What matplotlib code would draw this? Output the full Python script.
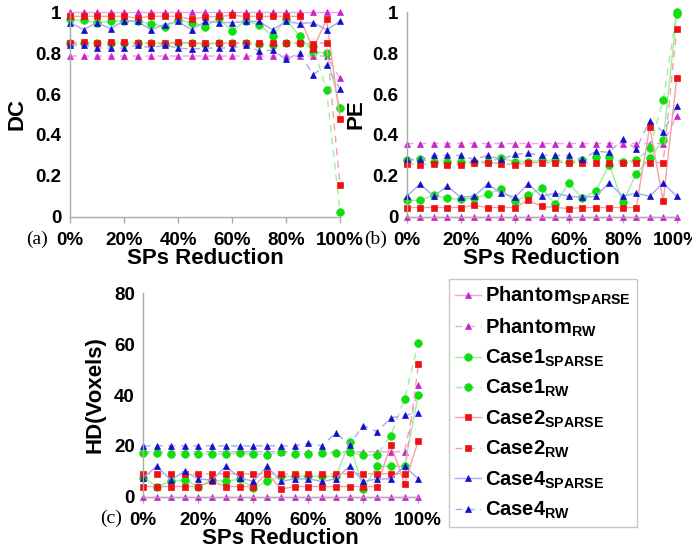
import matplotlib
matplotlib.use("Agg")
import matplotlib.pyplot as plt
from matplotlib.ticker import FuncFormatter
import numpy as np

reduction = [0, 5, 10, 15, 20, 25, 30, 35, 40, 45, 50, 55, 60, 65, 70, 75, 80, 85, 90, 95, 100]

# DC
dc_phantom_sparse = [1.0]*21
dc_phantom_rw = [0.786]*20 + [0.677]
dc_case1_sparse = [0.965, 0.96, 0.95, 0.955, 0.958, 0.955, 0.945, 0.93, 0.962, 0.95, 0.93, 0.97, 0.91, 0.958, 0.94, 0.885, 0.965, 0.885, 0.805, 0.80, 0.53]
dc_case1_rw = [0.85, 0.85, 0.85, 0.85, 0.85, 0.85, 0.85, 0.845, 0.85, 0.85, 0.845, 0.85, 0.85, 0.85, 0.845, 0.84, 0.85, 0.85, 0.835, 0.62, 0.025]
dc_case2_sparse = [0.98, 0.98, 0.98, 0.98, 0.98, 0.972, 0.98, 0.98, 0.98, 0.965, 0.978, 0.98, 0.985, 0.98, 0.98, 0.98, 0.98, 0.98, 0.82, 0.965, 0.48]
dc_case2_rw = [0.852, 0.853, 0.85, 0.853, 0.853, 0.85, 0.85, 0.85, 0.853, 0.85, 0.848, 0.848, 0.85, 0.848, 0.848, 0.848, 0.85, 0.85, 0.847, 0.85, 0.155]
dc_case4_sparse = [0.95, 0.915, 0.95, 0.92, 0.958, 0.955, 0.915, 0.94, 0.955, 0.915, 0.955, 0.95, 0.95, 0.955, 0.955, 0.915, 0.955, 0.945, 0.95, 0.915, 0.955]
dc_case4_rw = [0.84, 0.84, 0.825, 0.825, 0.825, 0.84, 0.825, 0.84, 0.825, 0.82, 0.825, 0.825, 0.825, 0.84, 0.81, 0.815, 0.77, 0.80, 0.695, 0.74, 0.625]

# PE
pe_phantom_sparse = [0.0]*21
pe_phantom_rw = [0.358]*20 + [0.493]
pe_case1_sparse = [0.08, 0.08, 0.105, 0.09, 0.085, 0.09, 0.11, 0.135, 0.075, 0.105, 0.14, 0.06, 0.165, 0.09, 0.125, 0.255, 0.07, 0.21, 0.285, 0.375, 0.99]
pe_case1_rw = [0.275, 0.28, 0.27, 0.27, 0.27, 0.27, 0.27, 0.285, 0.27, 0.27, 0.275, 0.275, 0.27, 0.275, 0.29, 0.29, 0.27, 0.275, 0.335, 0.57, 1.0]
pe_case2_sparse = [0.045, 0.045, 0.045, 0.045, 0.045, 0.055, 0.045, 0.045, 0.045, 0.08, 0.05, 0.045, 0.04, 0.045, 0.045, 0.045, 0.045, 0.045, 0.44, 0.075, 0.68]
pe_case2_rw = [0.26, 0.255, 0.26, 0.255, 0.255, 0.265, 0.265, 0.26, 0.255, 0.265, 0.265, 0.265, 0.265, 0.265, 0.265, 0.265, 0.265, 0.265, 0.265, 0.265, 0.92]
pe_case4_sparse = [0.10, 0.16, 0.10, 0.15, 0.095, 0.10, 0.16, 0.115, 0.095, 0.16, 0.10, 0.115, 0.10, 0.095, 0.10, 0.165, 0.10, 0.115, 0.10, 0.165, 0.10]
pe_case4_rw = [0.28, 0.28, 0.30, 0.30, 0.30, 0.28, 0.30, 0.28, 0.305, 0.31, 0.30, 0.30, 0.30, 0.28, 0.32, 0.315, 0.38, 0.33, 0.47, 0.415, 0.54]

# HD
hd_phantom_sparse = [0.0]*21
hd_phantom_rw = [17.7]*20 + [44.0]
hd_case1_sparse = [7.5, 4, 6, 6.5, 4, 6.5, 6, 7, 3.5, 6, 8, 8, 8, 8, 8, 21.5, 3, 12, 12, 12, 40]
hd_case1_rw = [17, 17.3, 16.7, 16.8, 16.8, 16.8, 16.8, 17.2, 16.8, 16.5, 17.5, 16.8, 16.8, 17.2, 17, 17.6, 16.3, 16.5, 24, 38.5, 60.5]
hd_case2_sparse = [4, 4, 4, 4, 4, 6, 4, 4, 4, 9.2, 3, 4, 4, 4, 4, 4, 4, 4, 20.5, 5, 22]
hd_case2_rw = [9, 9, 9, 9, 9, 9, 9, 9, 9, 9, 9, 9, 9, 9, 9, 9, 9, 9, 9, 9, 52]
hd_case4_sparse = [7.5, 12, 6.5, 10, 7, 6.5, 12, 7.5, 6, 12, 6, 7, 7, 6, 7, 12, 6, 7, 7, 12, 7]
hd_case4_rw = [20, 20, 20, 20, 20, 20, 20, 20, 20, 20, 20, 20, 21, 20, 25, 20.5, 28, 25.5, 31, 32, 33]

series_names = [r'Phantom$_{\mathbf{SPARSE}}$', r'Phantom$_{\mathbf{RW}}$',
                r'Case1$_{\mathbf{SPARSE}}$', r'Case1$_{\mathbf{RW}}$',
                r'Case2$_{\mathbf{SPARSE}}$', r'Case2$_{\mathbf{RW}}$',
                r'Case4$_{\mathbf{SPARSE}}$', r'Case4$_{\mathbf{RW}}$']

plt.rcParams['font.family'] = ['Liberation Sans', 'DejaVu Sans']
plt.rcParams['font.weight'] = 'bold'
plt.rcParams['mathtext.fontset'] = 'custom'
plt.rcParams['mathtext.bf'] = 'Liberation Sans:bold'
plt.rcParams['mathtext.rm'] = 'Liberation Sans:bold'

styles = [
    dict(color='#cc22cc', lc='#f0a0f0', ls='-', marker='^', ms=4.5),
    dict(color='#cc22cc', lc='#f0a0f0', ls=(0, (5, 4)), marker='^', ms=4.5),
    dict(color='#11dd11', lc='#a0eea0', ls='-', marker='o', ms=5.5),
    dict(color='#11dd11', lc='#a0eea0', ls=(0, (5, 4)), marker='o', ms=5.5),
    dict(color='#ee1111', lc='#f6a0a0', ls='-', marker='s', ms=5),
    dict(color='#ee1111', lc='#f6a0a0', ls=(0, (5, 4)), marker='s', ms=5),
    dict(color='#1111cc', lc='#a8a8f0', ls='-', marker='^', ms=4.5),
    dict(color='#1111cc', lc='#a8a8f0', ls=(0, (5, 4)), marker='^', ms=4.5),
]

W, H = 692, 548
fig = plt.figure(figsize=(W/100, H/100), dpi=100)

def ax_at(x0, x1, ytop, ybot):
    return fig.add_axes([x0/W, 1-ybot/H, (x1-x0)/W, (ybot-ytop)/H])

ax_a = ax_at(70, 340, 12.3, 216.7)
ax_b = ax_at(406.7, 676.7, 12.3, 216.7)
ax_c = ax_at(143.3, 418.3, 293.3, 496.7)

panels = [
    (ax_a, [dc_phantom_sparse, dc_phantom_rw, dc_case1_sparse, dc_case1_rw, dc_case2_sparse, dc_case2_rw, dc_case4_sparse, dc_case4_rw], 'DC', (0, 1), [0, 0.2, 0.4, 0.6, 0.8, 1], 6),
    (ax_b, [pe_phantom_sparse, pe_phantom_rw, pe_case1_sparse, pe_case1_rw, pe_case2_sparse, pe_case2_rw, pe_case4_sparse, pe_case4_rw], 'PE', (0, 1), [0, 0.2, 0.4, 0.6, 0.8, 1], 4),
    (ax_c, [hd_phantom_sparse, hd_phantom_rw, hd_case1_sparse, hd_case1_rw, hd_case2_sparse, hd_case2_rw, hd_case4_sparse, hd_case4_rw], 'HD(Voxels)', (0, 80), [0, 20, 40, 60, 80], 6),
]

handles = []
for ax, data, ylabel, ylim, yticks, lpad in panels:
    hs = []
    for vals, st, name in zip(data, styles, series_names):
        h, = ax.plot(reduction, vals, color=st['lc'], linestyle=st['ls'], linewidth=1.0,
                     marker=st['marker'], markersize=st['ms'], markerfacecolor=st['color'],
                     markeredgecolor=st['color'], markeredgewidth=0.5, clip_on=False, label=name)
        hs.append(h)
    handles = hs
    ax.set_xlim(0, 100)
    ax.set_ylim(*ylim)
    ax.set_xticks([0, 20, 40, 60, 80, 100])
    ax.xaxis.set_major_formatter(FuncFormatter(lambda v, p: f'{int(round(v))}%'))
    ax.set_yticks(yticks)
    ax.yaxis.set_major_formatter(FuncFormatter(lambda v, p: f'{v:g}'))
    for s in ['top', 'right']:
        ax.spines[s].set_visible(False)
    for s in ['left', 'bottom']:
        ax.spines[s].set_color('#aaaaaa')
        ax.spines[s].set_linewidth(1.0)
    ax.tick_params(axis='x', colors='#aaaaaa', length=4, width=1, labelcolor='black', labelsize=13.5, pad=7)
    ax.tick_params(axis='y', length=0, labelcolor='black', labelsize=13.5, pad=6)
    for lab in ax.get_xticklabels() + ax.get_yticklabels():
        lab.set_fontweight('bold')
    ax.set_xlabel('SPs Reduction', fontsize=16, fontweight='bold', labelpad=-1)
    ax.set_ylabel(ylabel, fontsize=16, fontweight='bold', labelpad=lpad)
    ax.patch.set_alpha(0)

fig.text(26/W, 1-239/H, '(a)', fontsize=14, family='Liberation Serif', fontweight='normal', va='center')
fig.text(364/W, 1-239/H, '(b)', fontsize=14, family='Liberation Serif', fontweight='normal', va='center')
fig.text(100/W, 1-518/H, '(c)', fontsize=14, family='Liberation Serif', fontweight='normal', va='center')

leg = fig.legend(handles=handles, loc='upper left', bbox_to_anchor=(449/W, 1-279/H),
                 borderaxespad=0, frameon=True, fancybox=False, edgecolor='#bbbbbb',
                 prop={'size': 14.5, 'weight': 'bold'}, handlelength=1.3, handletextpad=0.2,
                 labelspacing=0.45, borderpad=0.3)
leg.get_frame().set_linewidth(1.0)

fig.savefig('out.png', dpi=100)
